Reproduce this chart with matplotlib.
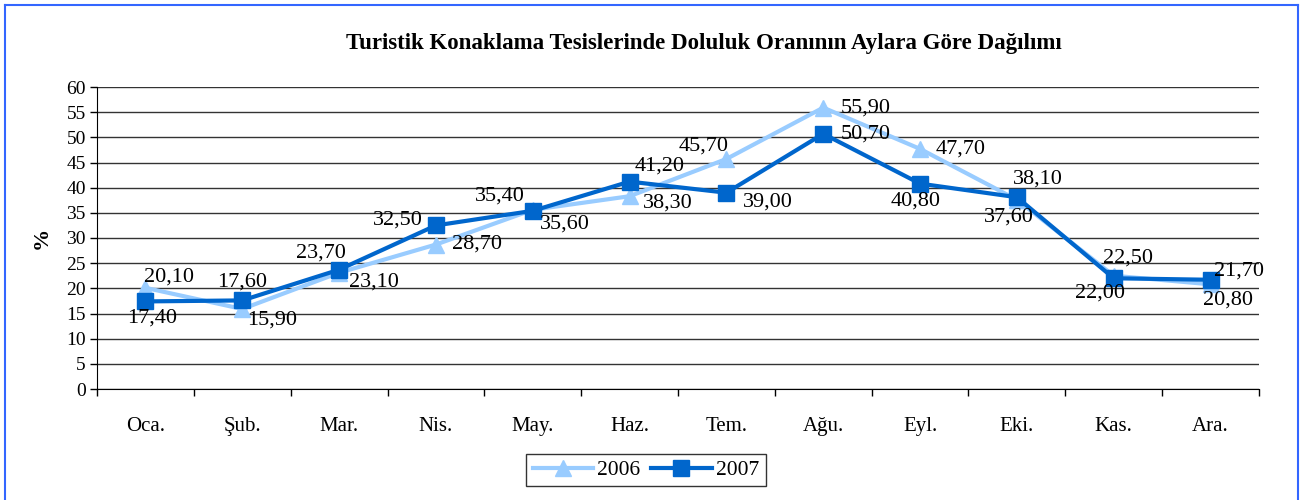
import matplotlib
matplotlib.use('Agg')
import matplotlib.pyplot as plt
import matplotlib.ticker as ticker
from matplotlib.lines import Line2D

months = ['Oca.', 'Şub.', 'Mar.', 'Nis.', 'May.', 'Haz.',
          'Tem.', 'Ağu.', 'Eyl.', 'Eki.', 'Kas.', 'Ara.']
occ_2006 = [20.1, 15.9, 23.1, 28.7, 35.6, 38.3, 45.7, 55.9, 47.7, 37.6, 22.5, 20.8]
occ_2007 = [17.4, 17.6, 23.7, 32.5, 35.4, 41.2, 39.0, 50.7, 40.8, 38.1, 22.0, 21.7]

# label offsets in pixels (dx, dy), dy positive = up
off_2006 = [(24, 11), (30, -11), (35, -9), (41, 0), (32, -14), (38, -7),
            (-23, 13), (42, 0), (41, 0), (-8, -17), (14, 18), (17, -16)]
off_2007 = [(7, -17), (0, 18), (-18, 17), (-38, 5), (-33, 15), (30, 16),
            (41, -9), (42, 0), (-4, -17), (21, 18), (-14, -15), (28, 9)]

c2006 = '#99CCFF'
c2007 = '#0066CC'

plt.rcParams['font.family'] = ['Liberation Serif', 'DejaVu Serif']

fig = plt.figure(figsize=(13.04, 5), dpi=100)
ax = fig.add_axes([97 / 1304, 111 / 500, 1162 / 1304, 302 / 500])

x = list(range(len(months)))
ax.plot(x, occ_2006, '-^', color=c2006, lw=3, ms=12, label='2006', zorder=3)
ax.plot(x, occ_2007, '-s', color=c2007, lw=3, ms=11, label='2007', zorder=4)

def fmt(v):
    return f"{v:.2f}".replace('.', ',')

for xi, v, (dx, dy) in zip(x, occ_2006, off_2006):
    ax.annotate(fmt(v), (xi, v), xytext=(dx, dy), textcoords='offset pixels',
                ha='center', va='center', fontsize=16, zorder=5)
for xi, v, (dx, dy) in zip(x, occ_2007, off_2007):
    ax.annotate(fmt(v), (xi, v), xytext=(dx, dy), textcoords='offset pixels',
                ha='center', va='center', fontsize=16, zorder=5)

ax.set_xlim(-0.5, len(months) - 0.5)
ax.set_ylim(0, 60)
ax.yaxis.set_major_locator(ticker.MultipleLocator(5))
ax.set_xticks([i - 0.5 for i in range(len(months) + 1)])
ax.set_xticklabels([])
ax.set_xticks(x, minor=True)
ax.set_xticklabels(months, minor=True, fontsize=15)
ax.tick_params(axis='x', which='minor', length=0, pad=20)
ax.tick_params(axis='x', which='major', length=5, width=1, direction='out')
ax.tick_params(axis='y', length=5, width=1, direction='out', labelsize=14, pad=3)
ax.grid(axis='y', color='#333333', lw=1)
ax.set_axisbelow(True)
for s in ['top', 'right']:
    ax.spines[s].set_visible(False)
ax.spines['left'].set_color('black')
ax.spines['bottom'].set_color('black')

fig.text(42 / 1304, 1 - 238 / 500, '%', rotation=90, ha='center', va='center',
         fontsize=16, fontweight='bold')
fig.text(704 / 1304, 1 - 43 / 500,
         'Turistik Konaklama Tesislerinde Doluluk Oranının Aylara Göre Dağılımı',
         ha='center', va='center', fontsize=16.5, fontweight='bold')

leg = ax.legend(loc='center', bbox_to_anchor=(646 / 1304, 30 / 500),
                bbox_transform=fig.transFigure, ncol=2, frameon=True,
                fancybox=False, edgecolor='black', fontsize=15.5,
                handlelength=2.8, columnspacing=0.5, handletextpad=0.2,
                borderpad=0.3)
leg.get_frame().set_linewidth(1)

bc = '#3366FF'
fig.add_artist(Line2D([5 / 1304, 5 / 1304], [-0.1, 1 - 5 / 500], color=bc, lw=1.5))
fig.add_artist(Line2D([5 / 1304, 1298 / 1304], [1 - 5 / 500, 1 - 5 / 500], color=bc, lw=1.5))
fig.add_artist(Line2D([1298 / 1304, 1298 / 1304], [-0.1, 1 - 5 / 500], color=bc, lw=1.5))

fig.savefig('out.png', dpi=100)
